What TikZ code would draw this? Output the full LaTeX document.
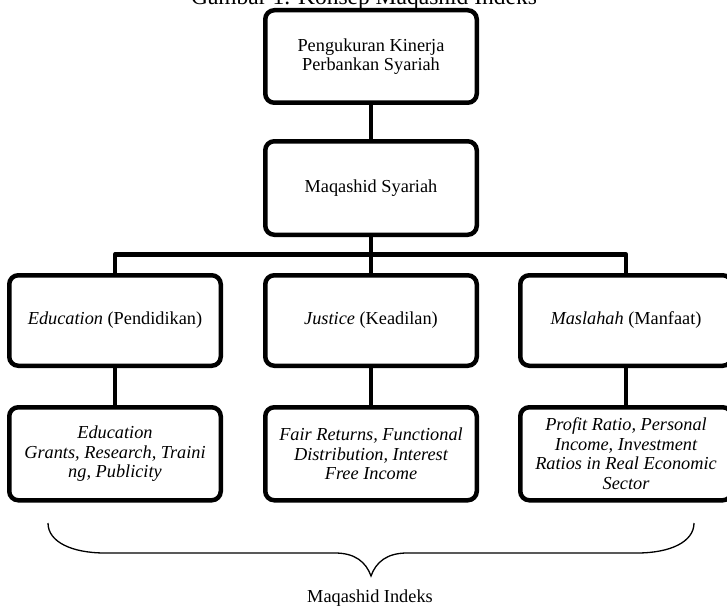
\documentclass[tikz,border=0pt]{standalone}
\usepackage{fontspec}
\setmainfont{Liberation Serif}
\usepackage{tikz}
\usetikzlibrary{positioning,calc}

\begin{document}
\begin{tikzpicture}[x=1pt, y=-1pt,
    box/.style={draw, line width=4.5pt, rounded corners=9pt, minimum width=211.5pt,
      inner sep=0pt, align=center, font=\fontsize{18.3}{19.5}\selectfont},
    link/.style={line width=4.8pt, line join=round}]
    \useasboundingbox (0,0) rectangle (727,607);
    % judul (terpotong di atas)
    \node[anchor=base, font=\fontsize{23.5}{26}\selectfont] (judul) at (364,5) {Gambar 1. Konsep Maqashid Indeks};
    \node[box, minimum height=92.5pt] (ukur) at (371,56.5) {Pengukuran Kinerja\\Perbankan Syariah};
    \node[box, minimum height=93.5pt] (maq) at (371,188) {Maqashid Syariah};
    \node[box, minimum height=90.5pt] (edu) at (115,320.5) {\textit{Education} (Pendidikan)};
    \node[box, minimum height=90.5pt] (jus) at (371,320.5) {\textit{Justice} (Keadilan)};
    \node[box, minimum height=90.5pt] (mas) at (626,320.5) {\textit{Maslahah} (Manfaat)};
    \node[box, minimum height=93pt, font=\fontsize{18.3}{19.5}\selectfont\itshape] (edui) at (115,453.75)
      {Education\\Grants, Research, Traini\\ng, Publicity};
    \node[box, minimum height=93pt, font=\fontsize{18.3}{19.5}\selectfont\itshape] (jusi) at (371,453.75)
      {Fair Returns, Functional\\Distribution, Interest\\Free Income};
    \node[box, minimum height=93pt, font=\fontsize{18.3}{19.5}\selectfont\itshape] (masi) at (626,453.75)
      {Profit Ratio, Personal\\Income, Investment\\Ratios in Real Economic\\Sector};
    \coordinate (bar) at (371,254.5);
    \draw[link] (ukur) -- (maq);
    \draw[link] (maq) -- (bar);
    \draw[link] (edu.north) |- (bar) -| (mas.north);
    \draw[link] (jus.north) -- (bar);
    \draw[link] (edu) -- (edui);
    \draw[link] (jus) -- (jusi);
    \draw[link] (mas) -- (masi);
    % kurung kurawal
    \draw[line width=1.3pt] (48,523) .. controls (48,542) and (72,553) .. (105,553)
      -- (335,553) .. controls (355,553) and (366,562) .. (371,576)
      .. controls (376,562) and (387,553) .. (407,553)
      -- (637,553) .. controls (670,553) and (694,542) .. (694,523);
    \node[anchor=base, font=\fontsize{18.3}{19.5}\selectfont] (indeks) at (370,602) {Maqashid Indeks};
\end{tikzpicture}
\end{document}
